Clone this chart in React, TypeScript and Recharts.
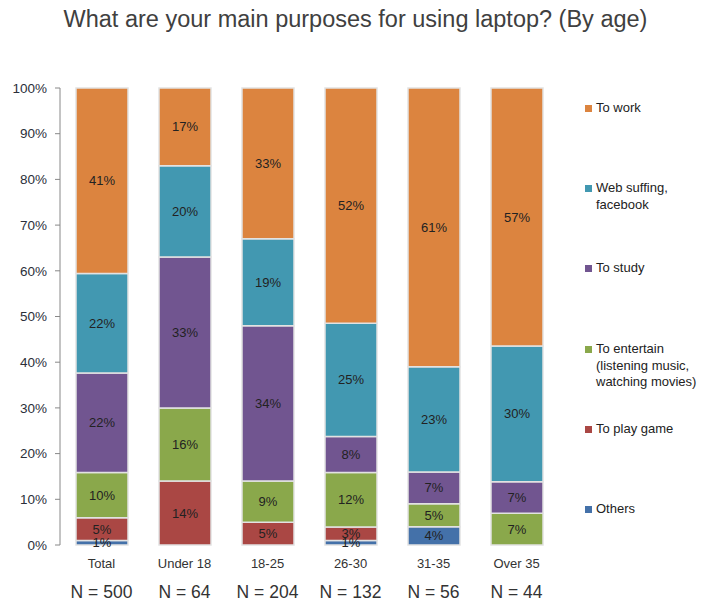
import { BarChart, Bar, XAxis, YAxis, LabelList } from 'recharts';

const groups = ['Total', 'Under 18', '18-25', '26-30', '31-35', 'Over 35'];
const sampleSizes = [500, 64, 204, 132, 56, 44];

const others = [1, 0, 0, 1, 4, 0];
const playGame = [5, 14, 5, 3, 0, 0];
const entertain = [10, 16, 9, 12, 5, 7];
const study = [22, 33, 34, 8, 7, 7];
const webSurfing = [22, 20, 19, 25, 23, 30];
const work = [41, 17, 33, 52, 61, 57];

const yTicks = [0, 0.1, 0.2, 0.3, 0.4, 0.5, 0.6, 0.7, 0.8, 0.9, 1];

const series = [
  { key: 'others', name: 'Others', color: '#4471a9', values: others },
  { key: 'play', name: 'To play game', color: '#aa4744', values: playGame },
  { key: 'entertain', name: 'To entertain (listening music, watching movies)', color: '#8aa84b', values: entertain },
  { key: 'study', name: 'To study', color: '#715590', values: study },
  { key: 'web', name: 'Web suffing, facebook', color: '#4298b1', values: webSurfing },
  { key: 'work', name: 'To work', color: '#dc843f', values: work },
];

const legendLines: Record<string, string[]> = {
  work: ['To work'],
  web: ['Web suffing,', 'facebook'],
  study: ['To study'],
  entertain: ['To entertain', '(listening music,', 'watching movies)'],
  play: ['To play game'],
  others: ['Others'],
};
const legendTop: Record<string, number> = {
  work: 100, web: 180, study: 260, entertain: 341, play: 421, others: 501,
};

const data = groups.map((g, i) => {
  const row: any = { group: g, n: sampleSizes[i] };
  series.forEach((s) => (row[s.key] = s.values[i]));
  return row;
});

const GroupTick = ({ x, y, payload, index }: any) => (
  <g transform={`translate(${x},${y})`}>
    <text x={0} y={15} textAnchor="middle" fontSize={13} fill="#333">
      {payload.value}
    </text>
    <text x={0} y={45} textAnchor="middle" fontSize={17.5} fill="#333">
      N = {sampleSizes[index]}
    </text>
  </g>
);

// legend drawn beside the plot, items spaced like the original
const SideLegend = () => (
  <div style={{ position: 'absolute', left: 585, top: 0, width: 126, height: 601 }}>
    {[...series].reverse().map((s) => (
      <div key={s.key} style={{ position: 'absolute', left: 0, top: legendTop[s.key], display: 'flex' }}>
        <div style={{ width: 7, height: 7, background: s.color, marginTop: 5, marginRight: 4 }} />
        <div style={{ fontSize: 13, lineHeight: '16.5px', color: '#222', whiteSpace: 'nowrap' }}>
          {legendLines[s.key].map((l) => (
            <div key={l}>{l}</div>
          ))}
        </div>
      </div>
    ))}
  </div>
);

export default function App() {
  return (
    <div
      style={{
        position: 'absolute',
        left: 0,
        top: 0,
        width: 711,
        height: 601,
        background: '#fff',
        fontFamily: 'Arial, "Liberation Sans", sans-serif',
      }}
    >
      <div
        style={{
          position: 'absolute',
          top: 6,
          left: 0,
          width: 711,
          textAlign: 'center',
          fontSize: 23.5,
          color: '#404040',
        }}
      >
        What are your main purposes for using laptop? (By age)
      </div>
      <BarChart
        width={711}
        height={601}
        data={data}
        stackOffset="expand"
        margin={{ top: 88, right: 153, bottom: 0, left: 0 }}
        barSize={52}
      >
        <XAxis xAxisId="top" orientation="top" dataKey="group" height={0} tick={false} tickLine={false} axisLine={{ stroke: '#333' }} />
        <XAxis
          xAxisId="bounds"
          type="number"
          domain={[0, 6]}
          ticks={[0, 1, 2, 3, 4, 5, 6]}
          height={0}
          tick={false}
          tickSize={5}
          tickLine={{ stroke: '#888' }}
          axisLine={{ stroke: '#888' }}
        />
        <XAxis dataKey="group" height={56} axisLine={false} tickLine={false} tick={<GroupTick />} interval={0} />
        <YAxis
          domain={[0, 1]}
          ticks={yTicks}
          tickFormatter={(v) => `${Math.round(v * 100)}%`}
          width={60}
          tick={{ fontSize: 13.5, fill: '#2b2f3a' }}
          tickSize={5}
          tickMargin={8}
          tickLine={{ stroke: '#888' }}
          axisLine={{ stroke: '#888' }}
        />
        <YAxis yAxisId="r" orientation="right" width={0} tick={false} tickLine={false} axisLine={{ stroke: '#555' }} />
        {series.map((s) => (
          <Bar
            key={s.key}
            dataKey={s.key}
            name={s.name}
            stackId="a"
            fill={s.color}
            stroke="#e2e2e2"
            strokeWidth={1.5}
            isAnimationActive={false}
          >
            <LabelList
              dataKey={s.key}
              position="center"
              fontSize={13}
              fill="#222"
              formatter={(v: any) => (v ? `${v}%` : '')}
            />
          </Bar>
        ))}
      </BarChart>
      <SideLegend />
    </div>
  );
}
